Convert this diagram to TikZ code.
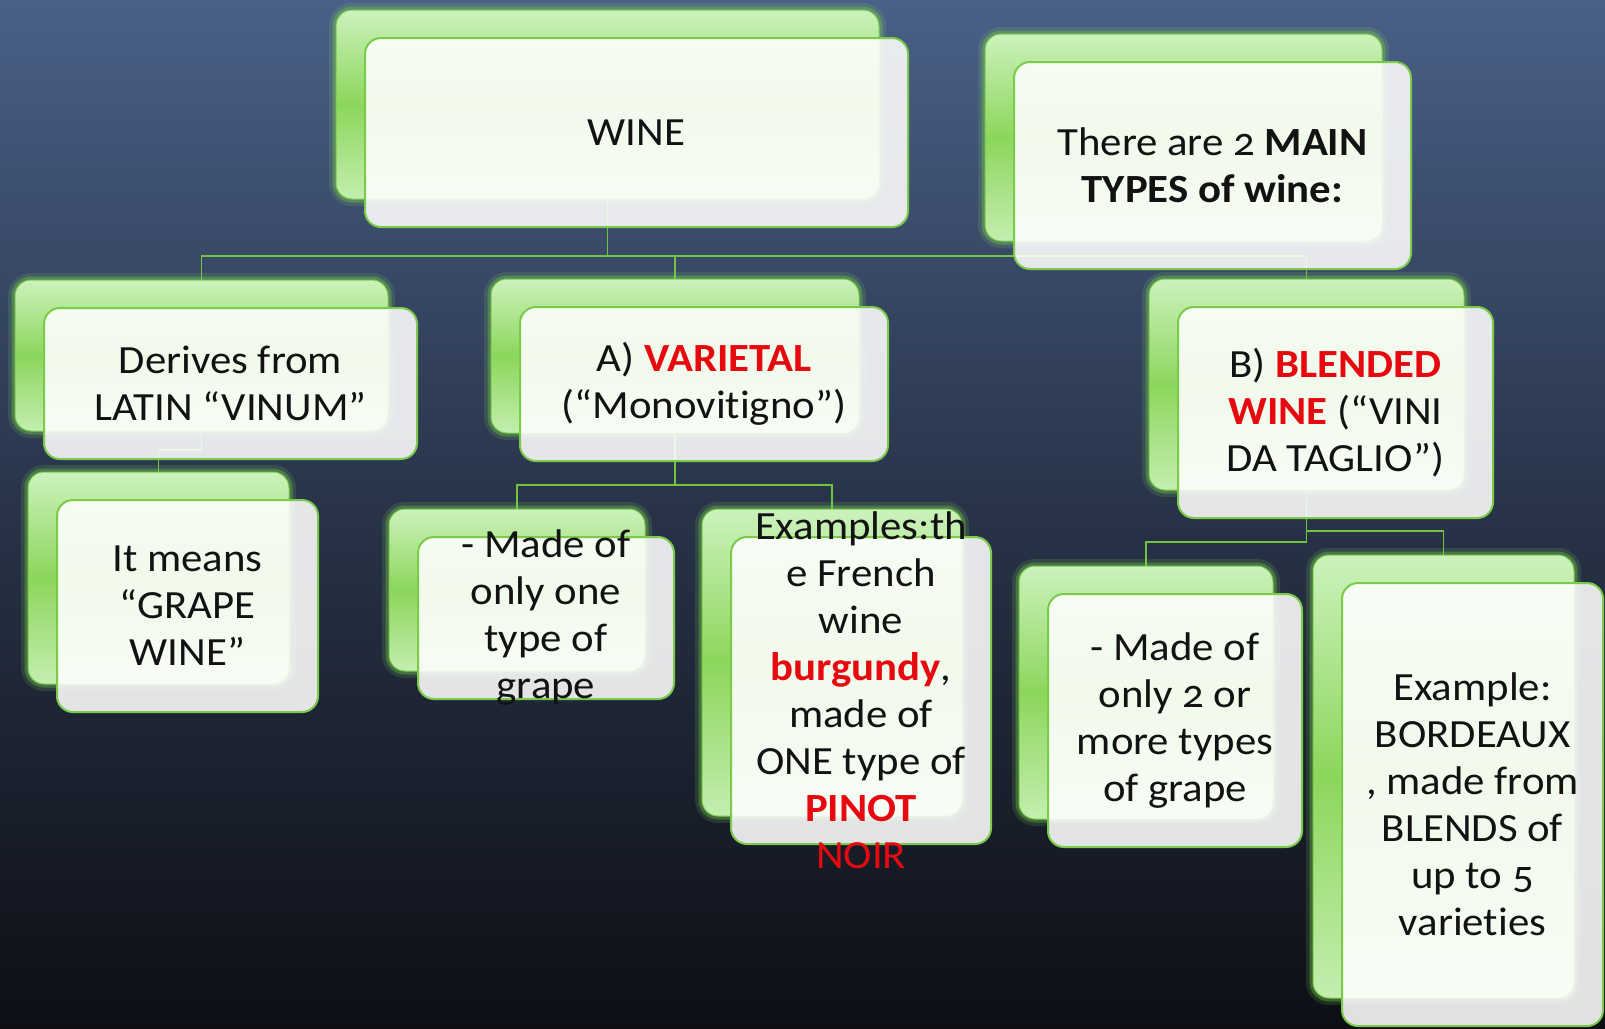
\documentclass[tikz,border=0pt]{standalone}
\usepackage{fontspec}
\setmainfont{Carlito}[Numbers=OldStyle, FakeStretch=1.07, Ligatures=NoCommon]
\usetikzlibrary{calc}
\definecolor{bgtop}{RGB}{74,96,136}
\definecolor{bgmid}{RGB}{40,51,72}
\definecolor{bgbot}{RGB}{13,15,21}
\definecolor{edgegreen}{RGB}{122,204,72}
\definecolor{glowgreen}{RGB}{130,220,80}
\definecolor{linegreen}{RGB}{112,196,62}
\definecolor{bktop}{RGB}{204,242,188}
\definecolor{bkmid}{RGB}{140,214,92}
\definecolor{bkbot}{RGB}{196,238,176}
\definecolor{wred}{RGB}{230,10,16}
\definecolor{ink}{RGB}{18,18,18}
\pgfdeclarelayer{bglayer}
\pgfdeclarelayer{linelayer}
\pgfsetlayers{bglayer,linelayer,main}
\newcommand{\rd}[1]{\textcolor{wred}{#1}}
\newcommand{\card}[5]{%
  \node[backbox, minimum width=#4pt, minimum height=#5pt] (#1-b) at (#2-29,#3-28) {};
  \node[frontbox, minimum width=#4pt, minimum height=#5pt] (#1) at (#2,#3) {};
}
\begin{document}
\begin{tikzpicture}[x=1pt,y=-1pt,
  backbox/.style={rounded corners=16pt, draw=edgegreen, line width=1pt,
    top color=bktop, bottom color=bkbot, middle color=bkmid, inner sep=0pt,
    preaction={draw=glowgreen, line width=14pt, draw opacity=0.15},
    preaction={draw=glowgreen, line width=7pt, draw opacity=0.3}},
  frontbox/.style={rounded corners=16pt, draw=edgegreen, line width=2pt,
    fill=white, fill opacity=0.88, inner sep=0pt},
  txt/.style={align=center, text=ink, font=\fontsize{40}{47}\selectfont, inner sep=0pt},
  conn/.style={draw=linegreen, line width=1.6pt}]
\useasboundingbox (0,0) rectangle (1605,1028);
\begin{pgfonlayer}{bglayer}
\shade[top color=bgtop, bottom color=bgbot, middle color=bgmid] (0,0) rectangle (1605,1028);
\end{pgfonlayer}

\card{wine}{636.5}{132.5}{543}{189}
\node[txt] (wine-t) at (wine.center) {WINE};
\card{main}{1212.5}{165.5}{397}{207}
\node[txt] (main-t) at (main.center) {There are 2 \textbf{MAIN}\\\textbf{TYPES of wine:}};
\card{der}{230.5}{383.5}{373}{151}
\node[txt] (der-t) at (der.center) {Derives from\\LATIN “VINUM”};
\card{mean}{187.5}{606}{261}{212}
\node[txt] (mean-t) at (mean.center) {It means\\“GRAPE\\WINE”};
\card{var}{704}{384}{368}{154}
\node[txt] (var-t) at (var.center) {A) \textbf{\rd{VARIETAL}}\\(“Monovitigno”)};
\card{one}{546}{618}{256}{162}
\node[txt] (one-t) at (one.center) {- Made of\\only one\\type of\\grape};
\card{ex}{861}{690.5}{260}{307}
\node[txt] (ex-t) at (ex.center) {Examples:th\\e French\\wine\\\textbf{\rd{burgundy}},\\made of\\ONE type of\\\textbf{\rd{PINOT}}\\\rd{NOIR}};
\card{bl}{1335.5}{412.5}{315}{211}
\node[txt] (bl-t) at (bl.center) {B) \textbf{\rd{BLENDED}}\\\textbf{\rd{WINE}} (“VINI\\DA TAGLIO”)};
\card{two}{1175}{720.5}{254}{253}
\node[txt] (two-t) at (two.center) {- Made of\\only 2 or\\more types\\of grape};
\card{bdx}{1472.5}{804.5}{261}{443}
\node[txt] (bdx-t) at (bdx.center) {Example:\\BORDEAUX\\, made from\\BLENDS of\\up to 5\\varieties};

\begin{pgfonlayer}{linelayer}
\draw[conn] (wine-b.south) -- (wine-b.south |- 0,256) -| (der-b.north);
\draw[conn] (wine-b.south |- 0,256) -| (var-b.north);
\draw[conn] (wine-b.south |- 0,256) -| (bl-b.north);
\draw[conn] (der-b.south) -- (der-b.south |- 0,450) -| (mean-b.north);
\draw[conn] (var-b.south) -- (var-b.south |- 0,485) -| (one-b.north);
\draw[conn] (var-b.south |- 0,485) -| (ex-b.north);
\draw[conn] (bl-b.south) -- (bl-b.south |- 0,542) -| (two-b.north);
\draw[conn] (bl-b.south |- 0,531) -| (bdx-b.north);
\end{pgfonlayer}
\end{tikzpicture}
\end{document}
